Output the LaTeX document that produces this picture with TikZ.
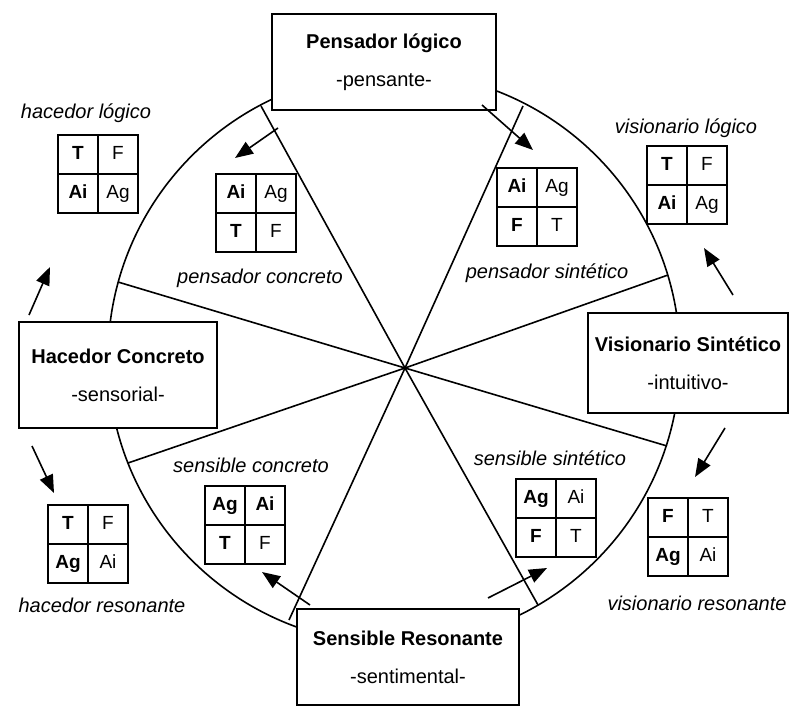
\documentclass[tikz,border=0pt]{standalone}
\usepackage{fontspec}
\setmainfont{Liberation Sans}
\usetikzlibrary{arrows.meta, matrix}

\begin{document}
\begin{tikzpicture}[x=0.5pt,y=-0.5pt,
  mainbox/.style={draw,line width=1pt,fill=white,align=center,minimum height=48pt,font=\fontsize{10}{12}\selectfont},
  quad/.style={matrix of nodes,column sep=-0.8pt,row sep=-0.8pt,
    nodes={draw,line width=0.8pt,anchor=center,minimum width=20pt,minimum height=19.5pt,
      text height=7pt,text depth=2pt,inner sep=0pt,font=\fontsize{9.5}{10}\selectfont}},
  tag/.style={font=\fontsize{10}{12}\selectfont\itshape},
  spoke/.style={line width=0.8pt},
  arrow/.style={-{Triangle[length=9pt,width=7pt]},line width=0.8pt}]
  \useasboundingbox (0,0) rectangle (796,706);
  \draw[spoke] (394,358) circle[radius=143pt];
  \coordinate (hub) at (405,368);
  \coordinate (r1) at (261,106);
  \coordinate (r2) at (523,106);
  \coordinate (r3) at (668,275);
  \coordinate (r4) at (667,446);
  \coordinate (r5) at (538,605);
  \coordinate (r6) at (289,620);
  \coordinate (r7) at (128,463);
  \coordinate (r8) at (118,282);
  \draw[spoke] (r1) -- (hub) -- (r5);
  \draw[spoke] (r2) -- (hub) -- (r6);
  \draw[spoke] (r3) -- (hub) -- (r7);
  \draw[spoke] (r4) -- (hub) -- (r8);

  \node[mainbox,minimum width=112pt] (pl) at (384,62) {\textbf{Pensador lógico}\\[7pt]-pensante-};
  \node[mainbox,minimum width=99pt,minimum height=53pt] (hc) at (118,375) {\textbf{Hacedor Concreto}\\[7pt]-sensorial-};
  \node[mainbox,minimum width=99pt,minimum height=50pt] (vs) at (688,363) {\textbf{Visionario Sintético}\\[7pt]-intuitivo-};
  \node[mainbox,minimum width=111pt] (sr) at (408,657) {\textbf{Sensible Resonante}\\[7pt]-sentimental-};

  \node[tag] (hlt) at (86,113) {hacedor lógico};
  \node[tag] (pct) at (260,278) {pensador concreto};
  \node[tag] (pst) at (547,273) {pensador sintético};
  \node[tag] (vlt) at (686,128) {visionario lógico};
  \node[tag] (hrt) at (102,605) {hacedor resonante};
  \node[tag] (sct) at (251,465) {sensible concreto};
  \node[tag] (sst) at (550,458) {sensible sintético};
  \node[tag] (vrt) at (697,603) {visionario resonante};

  \matrix[quad] (hlq) at (98,174) {\textbf{T} & F\\ \textbf{Ai} & Ag\\};
  \matrix[quad] (pcq) at (256,213) {\textbf{Ai} & Ag\\ \textbf{T} & F\\};
  \matrix[quad] (psq) at (537,207) {\textbf{Ai} & Ag\\ \textbf{F} & T\\};
  \matrix[quad] (vlq) at (687,185) {\textbf{T} & F\\ \textbf{Ai} & Ag\\};
  \matrix[quad] (hrq) at (88,544) {\textbf{T} & F\\ \textbf{Ag} & Ai\\};
  \matrix[quad] (scq) at (245,525) {\textbf{Ag} & \textbf{Ai}\\ \textbf{T} & F\\};
  \matrix[quad] (ssq) at (556,518) {\textbf{Ag} & Ai\\ \textbf{F} & T\\};
  \matrix[quad] (vrq) at (688,537) {\textbf{F} & T\\ \textbf{Ag} & Ai\\};

  \coordinate (a1) at (278,128); \coordinate (b1) at (235,158);
  \coordinate (a2) at (482,105); \coordinate (b2) at (533,150);
  \coordinate (a3) at (29,315);  \coordinate (b3) at (50,267);
  \coordinate (a4) at (733,295); \coordinate (b4) at (704,248);
  \coordinate (a5) at (725,428); \coordinate (b5) at (695,477);
  \coordinate (a6) at (32,446);  \coordinate (b6) at (54,493);
  \coordinate (a7) at (310,605); \coordinate (b7) at (262,572);
  \coordinate (a8) at (488,598); \coordinate (b8) at (547,568);
  \foreach \i in {1,...,8}
    \draw[arrow] (a\i) -- (b\i);
\end{tikzpicture}
\end{document}
